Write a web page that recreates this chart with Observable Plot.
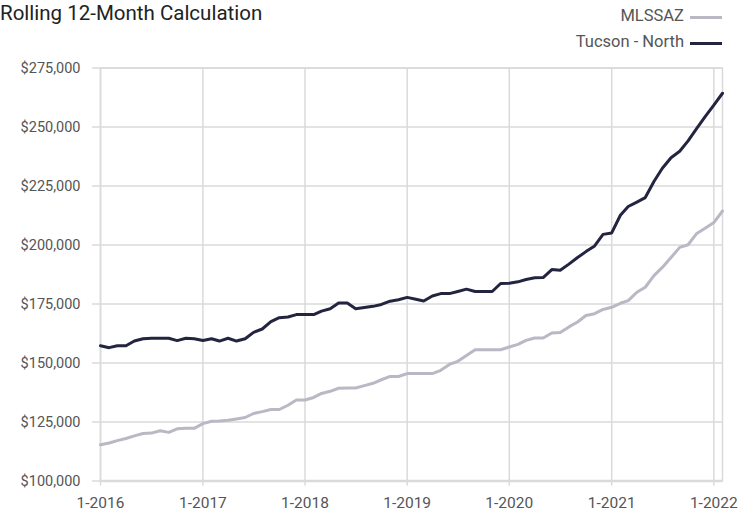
<!DOCTYPE html>
<html>
<head>
<meta charset="utf-8">
<script src="https://cdn.jsdelivr.net/npm/d3@7"></script>
<script src="https://cdn.jsdelivr.net/npm/@observablehq/plot@0.6"></script>
<style>
  html, body { margin: 0; padding: 0; background: #fff; }
  #wrap { position: relative; width: 751px; height: 515px; font-family: Roboto, "Liberation Sans", sans-serif; }
  #title { position: absolute; left: 0; top: 1px; font-size: 20.5px; color: #222; white-space: nowrap; }
  .leg { position: absolute; right: 67px; font-size: 16.5px; color: #555; white-space: nowrap; }
  .sw { position: absolute; left: 690px; width: 32px; height: 3px; }
</style>
</head>
<body>
<div id="wrap">
  <div id="chart"></div>
  <div id="title">Rolling 12-Month Calculation</div>
  <div class="leg" style="top:6px">MLSSAZ</div>
  <div class="sw" style="top:16px;background:#b9b8c5"></div>
  <div class="leg" style="top:32px">Tucson - North</div>
  <div class="sw" style="top:42px;background:#23243f"></div>
</div>
<script>
// first month of the series and series names
const startYear = 2016;
const seriesNames = ["MLSSAZ", "Tucson - North"];
const seriesColors = ["#b9b8c5", "#23243f"];

// Rolling 12-month values (dollars), Jan 2016 .. Feb 2022
const tucsonNorth = [
  157300,156500,157300,157300,159300,160300,160500,160500,160500,159500,160500,160300,
  159500,160300,159300,160500,159300,160300,163000,164400,167500,169200,169500,170500,
  170500,170500,172000,173000,175400,175400,173000,173500,174000,174800,176200,176800,
  177800,177000,176300,178400,179400,179400,180300,181300,180300,180300,180300,183700,
  183800,184400,185400,186100,186200,189600,189300,191900,194700,197200,199600,204500,
  205100,212600,216300,218200,220100,226900,232500,237000,239700,244100,249400,254400,
  259300,264300
];
const mlssaz = [
  115400,116100,117100,118000,119100,120100,120300,121300,120600,122100,122300,122300,
  124300,125300,125400,125700,126300,126900,128600,129400,130300,130300,132100,134300,
  134300,135400,137100,138000,139300,139400,139400,140400,141400,142900,144300,144300,
  145500,145500,145500,145500,146900,149400,150700,153200,155600,155600,155600,155600,
  156800,157900,159600,160600,160600,162700,162900,165300,167400,170100,170900,172700,
  173600,175300,176400,180000,182100,187000,190500,194700,199000,200100,204900,207100,
  209500,214400
];
const yTicks = [100000,125000,150000,175000,200000,225000,250000,275000];
const xTickYears = [2016,2017,2018,2019,2020,2021,2022];

const monthDate = i => new Date(Date.UTC(startYear, i, 1));
const rows = [];
mlssaz.forEach((v, i) => rows.push({date: monthDate(i), value: v, series: seriesNames[0]}));
tucsonNorth.forEach((v, i) => rows.push({date: monthDate(i), value: v, series: seriesNames[1]}));
const xTicks = xTickYears.map(y => new Date(Date.UTC(y, 0, 1)));
const grid = "#dadada";

const chart = Plot.plot({
  width: 751,
  height: 515,
  marginLeft: 100,
  marginRight: 29,
  marginTop: 67.5,
  marginBottom: 34.5,
  style: {fontFamily: "Roboto, 'Liberation Sans', sans-serif", fontSize: "14.5px", color: "#555", background: "#fff"},
  x: {type: "utc", domain: [monthDate(0), monthDate(tucsonNorth.length - 1)], label: null},
  y: {domain: [100000, 275000], label: null},
  color: {domain: seriesNames, range: seriesColors},
  marks: [
    Plot.gridX(xTicks, {stroke: grid, strokeOpacity: 1, strokeWidth: 1.5}),
    Plot.gridY(yTicks, {stroke: grid, strokeOpacity: 1, strokeWidth: 1.5}),
    Plot.frame({stroke: grid, strokeWidth: 1.5}),
    Plot.ruleY([100000], {stroke: grid, strokeWidth: 2.5}),
    Plot.axisY(yTicks, {tickSize: 8, tickPadding: 12, stroke: grid, strokeOpacity: 1, strokeWidth: 1.5, tickFormat: d3.format("$,"), fill: "#555"}),
    Plot.axisX(xTicks, {tickSize: 5, tickPadding: 11, stroke: grid, strokeOpacity: 1, strokeWidth: 1.5, tickFormat: d => `1-${d.getUTCFullYear()}`, fill: "#555", fontSize: "15.5px"}),
    Plot.line(rows, {x: "date", y: "value", z: "series", stroke: "series", strokeWidth: 3, curve: "linear"})
  ]
});
document.getElementById("chart").appendChild(chart);
</script>
</body>
</html>
